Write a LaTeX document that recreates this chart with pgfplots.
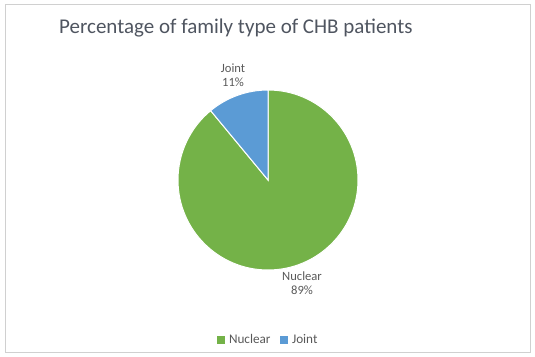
\documentclass[border=0pt]{standalone}
\usepackage{pgfplots}
\pgfplotsset{compat=1.18}
\usepackage{pgfplotstable}
\usepackage{fontspec}
\setmainfont{Carlito}
\definecolor{cgreen}{HTML}{74B248}
\definecolor{cblue}{HTML}{5B9BD5}
\definecolor{ctext}{HTML}{595959}
\definecolor{ctitle}{HTML}{4F5560}
\definecolor{cborder}{HTML}{D0D0D0}
\pgfplotstableread{
label value
Nuclear 89
Joint 11
}\piedata
\begin{document}
\begin{tikzpicture}
\begin{axis}[width=535bp,height=357bp,scale only axis,
  xmin=0,xmax=535,ymin=0,ymax=357,y dir=reverse,
  axis lines=none,clip=false,
  legend style={at={(axis cs:268,340)},anchor=center,draw=none,fill=none,
    legend columns=2,font=\fontsize{13.2bp}{15bp}\selectfont\color{ctext},
    /tikz/every odd column/.append style={column sep=2bp},
    /tikz/every even column/.append style={column sep=7bp}},
  legend image code/.code={\fill[#1,draw=none] (0bp,-4bp) rectangle (8.5bp,4.5bp);}]
\pgfplotstablegetelem{0}{value}\of\piedata \let\vA\pgfplotsretval
\pgfplotstablegetelem{1}{value}\of\piedata \let\vB\pgfplotsretval
\pgfmathsetmacro\aA{90-3.6*\vA}
\pgfmathsetmacro\aB{\aA-3.6*\vB}
\path[use as bounding box] (axis cs:0,0) rectangle (axis cs:535,357);
\draw[cborder,line width=1bp] (axis cs:5,5) rectangle (axis cs:530,352);
\fill[cgreen,draw=white,line width=1bp] (axis cs:268,180) -- ++(90:90bp) arc[start angle=90,end angle=\aA,radius=90bp] -- cycle;
\fill[cblue,draw=white,line width=1bp] (axis cs:268,180) -- ++(\aA:90bp) arc[start angle=\aA,end angle=\aB,radius=90bp] -- cycle;
\node[text=ctitle,font=\fontsize{21bp}{25bp}\selectfont,anchor=base west,inner sep=0pt] at (axis cs:59,33) {Percentage of family type of CHB patients};
\node[text=ctext,font=\fontsize{12.6bp}{14bp}\selectfont,align=center] at (axis cs:233,75) {Joint\\\vB\%};
\node[text=ctext,font=\fontsize{12.6bp}{14bp}\selectfont,align=center] at (axis cs:302,283) {Nuclear\\\vA\%};
\addlegendimage{fill=cgreen}
\addlegendentry{Nuclear}
\addlegendimage{fill=cblue}
\addlegendentry{Joint}
\end{axis}
\end{tikzpicture}
\end{document}
